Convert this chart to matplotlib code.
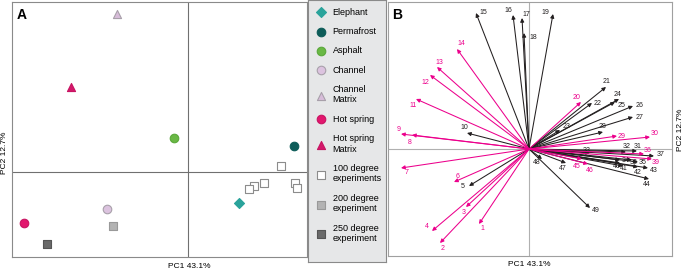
import matplotlib.pyplot as plt

plt.rcParams['font.family'] = ['Liberation Sans Narrow', 'Liberation Sans', 'DejaVu Sans']

# panel A: sample scores on PC1 / PC2
sample_names = ['Elephant', 'Permafrost', 'Asphalt', 'Channel', 'Channel\nMatrix',
                'Hot spring', 'Hot spring\nMatrix', '100 degree\nexperiments',
                '200 degree\nexperiment', '250 degree\nexperiment']
pc1_scores = [[1.28], [2.65], [-0.35], [-2.03], [-1.78], [-4.10], [-2.93],
              [2.33, 1.90, 1.65, 1.53, 2.68, 2.73], [-1.88], [-3.53]]
pc2_scores = [[-0.78], [0.65], [0.85], [-0.93], [3.95], [-1.28], [2.13],
              [0.15, -0.28, -0.35, -0.43, -0.28, -0.40], [-1.35], [-1.80]]

# panel B: variable loadings
variable_ids = list(range(1, 50))
pc1_loadings = [-0.50, -0.89, -0.63, -0.97, -0.60, -0.75, -1.28, -1.17, -1.28, -0.62,
                -1.13, -0.99, -0.92, -0.72, -0.53, -0.16, -0.07, -0.05, 0.24, 0.52,
                0.77, 0.63, 0.31, 0.90, 0.86, 1.04, 1.04, 0.74, 0.88, 1.21,
                1.08, 0.97, 0.61, 0.91, 1.09, 1.15, 1.25, 1.03, 1.23, 0.91,
                0.94, 1.09, 1.19, 1.20, 0.53, 0.59, 0.37, 0.13, 0.61]
pc2_loadings = [-0.75, -0.94, -0.58, -0.82, -0.37, -0.33, -0.19, 0.14, 0.15, 0.16,
                0.50, 0.74, 0.82, 1.00, 1.36, 1.34, 1.31, 1.16, 1.35, 0.47,
                0.62, 0.46, 0.19, 0.50, 0.47, 0.43, 0.32, 0.17, 0.13, 0.12,
                -0.02, -0.03, -0.04, -0.11, -0.13, -0.05, -0.07, -0.11, -0.10, -0.14,
                -0.17, -0.18, -0.19, -0.30, -0.10, -0.15, -0.14, -0.10, -0.59]
pink_ids = [1, 2, 3, 4, 6, 7, 8, 9, 11, 12, 13, 14, 20, 29, 30, 36, 39, 45, 46]

# styling
PINK = '#ec008c'
DARK = '#231f20'
markers = ['D', 'o', 'o', 'o', '^', 'o', '^', 's', 's', 's']
face = ['#2aa39b', '#0d5c59', '#6ab845', '#dcc3df', '#d7bcd9', '#e2176e', '#d4186b',
        'white', '#b3b3b3', '#6a6a6a']
edge = ['#2aa39b', '#0d5c59', '#5aa83a', '#a8a0aa', '#a8a0aa', '#c81462', '#c81462',
        '#8c8c8c', '#999999', '#555555']
sizes = [26, 38, 38, 38, 34, 38, 34, 26, 26, 26]
# label offsets in pixels (dx, dy down)
lab_off = {1: (3, 5), 2: (3, 5), 3: (-2, 5), 4: (-5, -4), 5: (-6, 0), 6: (4, -5),
           7: (6, 4), 8: (-2, 7), 9: (-2, -5), 10: (-3, -6), 11: (-3, 6), 12: (-5, 7),
           13: (2, -5), 14: (4, -6), 15: (7, -1), 16: (-5, -4), 17: (4, -4), 18: (9, 4),
           19: (-8, -2), 20: (-4, -5), 21: (1, -6), 22: (6, 0), 23: (7, -4), 24: (-1, -5),
           25: (7, 3), 26: (7, -1), 27: (7, 0), 28: (0, -6), 29: (5, 0), 30: (5, -4),
           31: (1, -4), 32: (1, -5), 33: (-3, -2), 34: (6, 1), 35: (5, 0), 36: (4, -3),
           37: (7, -2), 38: (2, 2), 39: (4, 3), 40: (-3, 4), 41: (1, 3), 42: (0, 5),
           43: (6, 2), 44: (-2, 6), 45: (-5, 8), 46: (2, 6), 47: (-3, 5), 48: (-5, 4),
           49: (6, 3)}

W, H = 685, 270
fig = plt.figure(figsize=(W / 100, H / 100), dpi=100)


def px_axes(x0, y0, x1, y1):
    return fig.add_axes([x0 / W, 1 - y1 / H, (x1 - x0) / W, (y1 - y0) / H])


# ---- panel A ----
axA = px_axes(12, 2, 307, 257)
handles = []
for i, name in enumerate(sample_names):
    h = axA.scatter(pc1_scores[i], pc2_scores[i], marker=markers[i], s=sizes[i],
                    facecolor=face[i], edgecolor=edge[i], linewidths=0.8, zorder=3)
    handles.append(h)
axA.axvline(0, color='#707070', lw=0.8, zorder=1)
axA.axhline(0, color='#707070', lw=0.8, zorder=1)
axA.set_xlim(-4.4, 2.975)
axA.set_ylim(-2.125, 4.25)
axA.set_xticks([])
axA.set_yticks([])
for s in axA.spines.values():
    s.set_color('#8a8a8a')
    s.set_linewidth(0.8)
axA.text(0.015, 0.975, 'A', transform=axA.transAxes, fontsize=10, fontweight='bold',
         ha='left', va='top', family=['Liberation Sans', 'DejaVu Sans'])
fig.text(189 / W, 1 - 266 / H, 'PC1 43.1%', fontsize=6, ha='center', va='center')
fig.text(5 / W, 1 - 153 / H, 'PC2 12.7%', fontsize=6, ha='center', va='center', rotation=90)

# ---- legend panel ----
axL = px_axes(308, 0, 386, 262)
axL.set_facecolor('#e6e7e8')
axL.set_xticks([])
axL.set_yticks([])
for s in axL.spines.values():
    s.set_color('#8a8a8a')
    s.set_linewidth(0.8)
axL.legend(handles, sample_names, loc='upper left', frameon=False, fontsize=6.5,
           labelspacing=1.15, handletextpad=0.8, handlelength=1.0,
           borderaxespad=0.0, bbox_to_anchor=(0.06, 0.985), scatterpoints=1)

# ---- panel B ----
axB = px_axes(388, 2, 672, 256)
order = [v for v in variable_ids if v not in pink_ids] + pink_ids
for v in order:
    x, y = pc1_loadings[v - 1], pc2_loadings[v - 1]
    c = PINK if v in pink_ids else DARK
    axB.annotate('', xy=(x, y), xytext=(0, 0),
                 arrowprops=dict(arrowstyle='-|>', color=c, lw=0.75,
                                 mutation_scale=5.5, shrinkA=0, shrinkB=0))
    dx, dy = lab_off[v]
    axB.annotate(str(v), xy=(x, y), xytext=(dx * 0.72, -dy * 0.72),
                 textcoords='offset points', ha='center', va='center',
                 fontsize=5, color=c)
axB.axvline(0, color='#b0b0b0', lw=0.8, zorder=0)
axB.axhline(0, color='#b0b0b0', lw=0.8, zorder=0)
axB.set_xlim(-1.41, 1.43)
axB.set_ylim(-1.07, 1.47)
axB.set_xticks([])
axB.set_yticks([])
for s in axB.spines.values():
    s.set_color('#a0a0a0')
    s.set_linewidth(0.8)
axB.text(0.015, 0.975, 'B', transform=axB.transAxes, fontsize=10, fontweight='bold',
         ha='left', va='top', family=['Liberation Sans', 'DejaVu Sans'])
fig.text(529 / W, 1 - 265 / H, 'PC1 43.1%', fontsize=6, ha='center', va='center')
fig.text(680 / W, 1 - 130 / H, 'PC2 12.7%', fontsize=6, ha='center', va='center', rotation=90)

fig.savefig('out.png', dpi=100)
